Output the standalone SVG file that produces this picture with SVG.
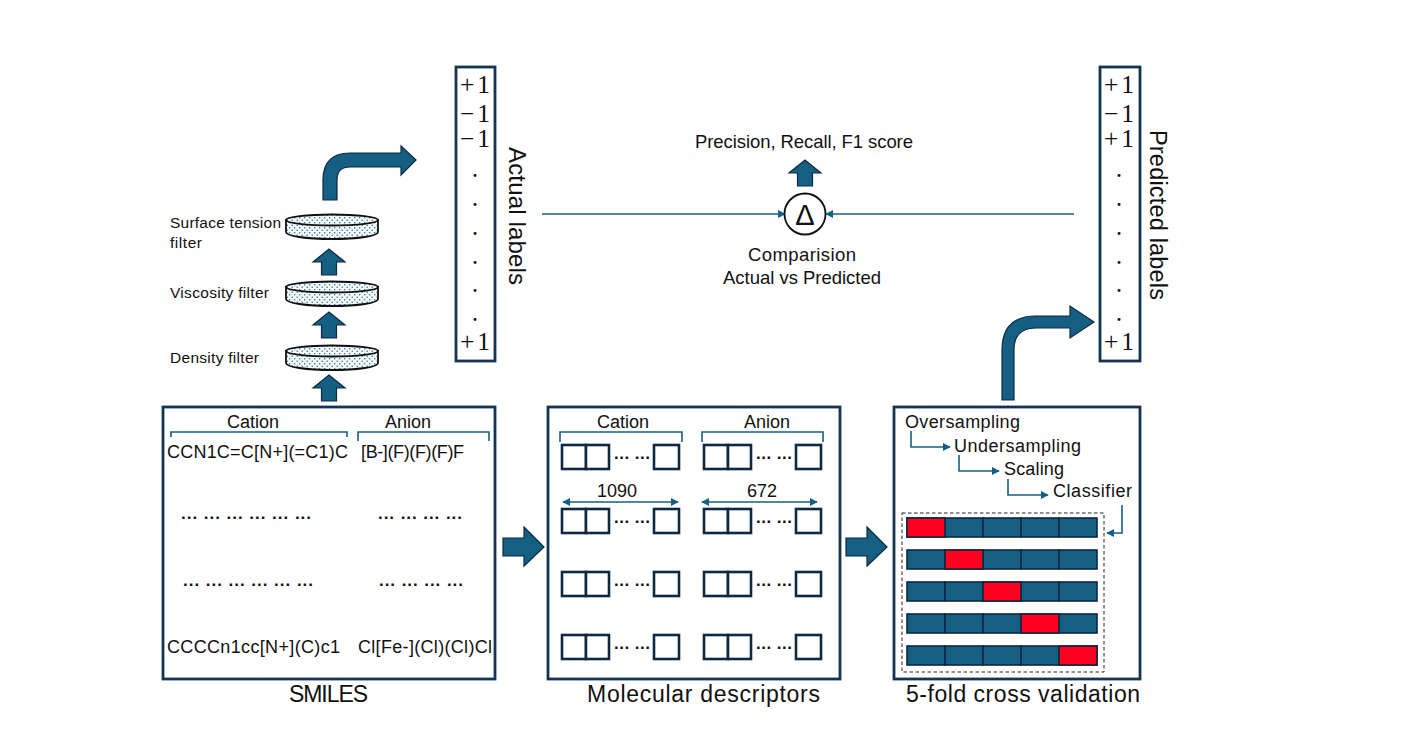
<svg xmlns="http://www.w3.org/2000/svg" width="1427" height="753" viewBox="0 0 1427 753">
<style>
text{font-family:"Liberation Sans",Arial,sans-serif;fill:#111;}
.panel{fill:#fff;stroke:#153450;stroke-width:2.8;}
.s14{font-size:15.5px;}
.s16{font-size:18.5px;}
.s17{font-size:18px;}
.s22{font-size:23px;}
.math{font-family:"Liberation Serif","Times New Roman",serif;font-size:25.5px;}
.dot{font-family:"Liberation Serif",serif;font-size:18px;font-weight:bold;}
.mid{text-anchor:middle;}
.thin{fill:none;stroke:#156082;stroke-width:1.6;}
.big{fill:#156082;stroke:#0e2841;stroke-width:1.2;}
.cell{fill:#156082;stroke:#0e2841;stroke-width:1.6;}
.hot{fill:#ff0020;stroke:#0e2841;stroke-width:1.6;}
.box{fill:#fff;stroke:#0e2841;stroke-width:2.6;}
.ell{font-size:17px;font-weight:bold;}
.disk{fill:url(#dots);stroke:#111;stroke-width:1.8;}
</style>
<defs>
<pattern id="dots" width="5" height="5" patternUnits="userSpaceOnUse">
<rect width="5" height="5" fill="#f2f8fa"/>
<circle cx="1.2" cy="1.2" r="0.7" fill="#156082"/>
<circle cx="3.7" cy="3.7" r="0.7" fill="#156082"/>
</pattern>
<marker id="tip" viewBox="0 0 10 10" refX="9" refY="5" markerWidth="8" markerHeight="8" markerUnits="userSpaceOnUse" orient="auto-start-reverse">
<path d="M0 0L10 5L0 10Z" fill="#156082"/>
</marker>
<path id="upArrow" class="big" d="M-7.5 26V13H-16L0 0L16 13H7.5V26Z"/>
<path id="rightArrow" class="big" d="M0 11H21V0L41 20L21 39V29H0Z"/>
<g id="disk">
<path class="disk" d="M0 6V18C0 22 20 25 46 25C72 25 92 22 92 18V6Z"/>
<ellipse class="disk" cx="46" cy="6" rx="46" ry="5.5"/>
</g>
<g id="descRow">
<rect class="box" x="0" y="0" width="24" height="24"/>
<rect class="box" x="24" y="0" width="23" height="24"/>
<rect class="box" x="92" y="0" width="25" height="24"/>
<text class="ell" x="52" y="14" textLength="36">... ...</text>
</g>
<g id="bar">
<rect class="cell" x="0" width="38" height="19"/>
<rect class="cell" x="38" width="38" height="19"/>
<rect class="cell" x="76" width="38" height="19"/>
<rect class="cell" x="114" width="38" height="19"/>
<rect class="cell" x="152" width="38" height="19"/>
</g>
</defs>
<rect width="1427" height="753" fill="#fff"/>

<g id="connectors">
<path class="big" d="M323 200V180Q323 153 350 153H401V146L416 160L401 175V167H350Q337 167 337 180V200Z"/>
<use href="#upArrow" x="329" y="249"/>
<use href="#upArrow" x="329" y="312"/>
<use href="#upArrow" x="329" y="375"/>
<use href="#upArrow" x="805" y="160"/>
<path class="big" d="M1002 400V350Q1002 316 1036 316H1070V306L1094 322L1070 338V328H1036Q1014 328 1014 350V400Z"/>
<use href="#rightArrow" x="503" y="527"/>
<use href="#rightArrow" x="846" y="527"/>
<path class="thin" d="M542 214H785" marker-end="url(#tip)"/>
<path class="thin" d="M1074 214H826" marker-end="url(#tip)"/>
</g>

<g id="smiles">
<rect class="panel" x="163" y="407" width="332" height="272"/>
<text class="s17 mid" x="253" y="428">Cation</text>
<text class="s17 mid" x="408" y="428">Anion</text>
<path class="thin" d="M171 437V432H347V437"/>
<path class="thin" d="M358 441V432H489V441"/>
<text class="s17" x="167" y="458" textLength="181">CCN1C=C[N+](=C1)C</text>
<text class="s17" x="361" y="458" textLength="103">[B-](F)(F)(F)F</text>
<text class="ell" x="181" y="519" textLength="130">... ... ... ... ... ...</text>
<text class="ell" x="378" y="519" textLength="84">... ... ... ...</text>
<text class="ell" x="183" y="586" textLength="130">... ... ... ... ... ...</text>
<text class="ell" x="379" y="586" textLength="84">... ... ... ...</text>
<text class="s17" x="167" y="653" textLength="173">CCCCn1cc[N+](C)c1</text>
<text class="s17" x="358" y="653" textLength="134">Cl[Fe-](Cl)(Cl)Cl</text>
<text class="s22" x="289" y="702" textLength="79">SMILES</text>
</g>

<g id="filters">
<use href="#disk" x="286" y="214"/>
<use href="#disk" x="286" y="281"/>
<use href="#disk" x="286" y="345"/>
<text class="s14" x="170" y="228" textLength="111">Surface tension</text>
<text class="s14" x="170" y="248" textLength="32">filter</text>
<text class="s14" x="170" y="298" textLength="99">Viscosity filter</text>
<text class="s14" x="170" y="363" textLength="89">Density filter</text>
</g>

<g id="actual-labels">
<rect class="panel" x="456" y="67" width="39" height="294"/>
<text class="math" x="460" y="93" textLength="30">+1</text>
<text class="math" x="460" y="122" textLength="30">−1</text>
<text class="math" x="460" y="147" textLength="30">−1</text>
<text class="dot mid" x="475" y="177">.</text>
<text class="dot mid" x="475" y="206">.</text>
<text class="dot mid" x="475" y="235">.</text>
<text class="dot mid" x="475" y="264">.</text>
<text class="dot mid" x="475" y="292">.</text>
<text class="dot mid" x="475" y="321">.</text>
<text class="math" x="460" y="350" textLength="30">+1</text>
<text style="font-size:24px" transform="translate(509 147) rotate(90)" textLength="138">Actual labels</text>
</g>

<g id="predicted-labels">
<rect class="panel" x="1100" y="67" width="40" height="294"/>
<text class="math" x="1104" y="93" textLength="30">+1</text>
<text class="math" x="1104" y="122" textLength="30">−1</text>
<text class="math" x="1104" y="147" textLength="30">+1</text>
<text class="dot mid" x="1119" y="177">.</text>
<text class="dot mid" x="1119" y="206">.</text>
<text class="dot mid" x="1119" y="235">.</text>
<text class="dot mid" x="1119" y="264">.</text>
<text class="dot mid" x="1119" y="292">.</text>
<text class="dot mid" x="1119" y="321">.</text>
<text class="math" x="1104" y="350" textLength="30">+1</text>
<text style="font-size:23.5px" transform="translate(1150 130) rotate(90)" textLength="170">Predicted labels</text>
</g>

<g id="comparison">
<circle cx="805" cy="214" r="20.5" fill="#fff" stroke="#111" stroke-width="1.8"/>
<text class="mid" style="font-size:29px" x="805" y="225">Δ</text>
<text class="s16" x="695" y="148" textLength="218">Precision, Recall, F1 score</text>
<text class="s16" x="748" y="261" textLength="108">Comparision</text>
<text class="s16" x="723" y="284" textLength="158">Actual vs Predicted</text>
</g>

<g id="descriptors">
<rect class="panel" x="548" y="407" width="292" height="272"/>
<text class="s17 mid" x="623" y="428">Cation</text>
<text class="s17 mid" x="767" y="428">Anion</text>
<path class="thin" d="M560 442V432H682V442"/>
<path class="thin" d="M702 442V432H823V442"/>
<use href="#descRow" x="562" y="445"/>
<use href="#descRow" x="562" y="509"/>
<use href="#descRow" x="562" y="572"/>
<use href="#descRow" x="562" y="635"/>
<use href="#descRow" x="704" y="445"/>
<use href="#descRow" x="704" y="509"/>
<use href="#descRow" x="704" y="572"/>
<use href="#descRow" x="704" y="635"/>
<text class="s17 mid" x="617" y="497">1090</text>
<text class="s17 mid" x="762" y="497">672</text>
<path class="thin" d="M563 502H678" marker-start="url(#tip)" marker-end="url(#tip)"/>
<path class="thin" d="M702 502H817" marker-start="url(#tip)" marker-end="url(#tip)"/>
<text class="s22" x="587" y="702" textLength="233">Molecular descriptors</text>
</g>

<g id="cross-validation">
<rect class="panel" x="894" y="407" width="246" height="272"/>
<text class="s17" x="905" y="428" textLength="115">Oversampling</text>
<text class="s17" x="954" y="452" textLength="127">Undersampling</text>
<text class="s17" x="1004" y="475" textLength="60">Scaling</text>
<text class="s17" x="1053" y="497" textLength="79">Classifier</text>
<path class="thin" d="M911 431V447H950" marker-end="url(#tip)"/>
<path class="thin" d="M959 455V471H999" marker-end="url(#tip)"/>
<path class="thin" d="M1008 479V495H1048" marker-end="url(#tip)"/>
<path class="thin" d="M1122 505V533H1107" marker-end="url(#tip)"/>
<rect x="902" y="513" width="202" height="159" fill="none" stroke="#222" stroke-width="1" stroke-dasharray="3.5 2.5"/>
<use href="#bar" x="907" y="518"/>
<use href="#bar" x="907" y="550"/>
<use href="#bar" x="907" y="582"/>
<use href="#bar" x="907" y="614"/>
<use href="#bar" x="907" y="646"/>
<rect class="hot" x="907" y="518" width="38" height="19"/>
<rect class="hot" x="945" y="550" width="38" height="19"/>
<rect class="hot" x="983" y="582" width="38" height="19"/>
<rect class="hot" x="1021" y="614" width="38" height="19"/>
<rect class="hot" x="1059" y="646" width="38" height="19"/>
<text class="s22" x="906" y="702" textLength="234">5-fold cross validation</text>
</g>
</svg>
